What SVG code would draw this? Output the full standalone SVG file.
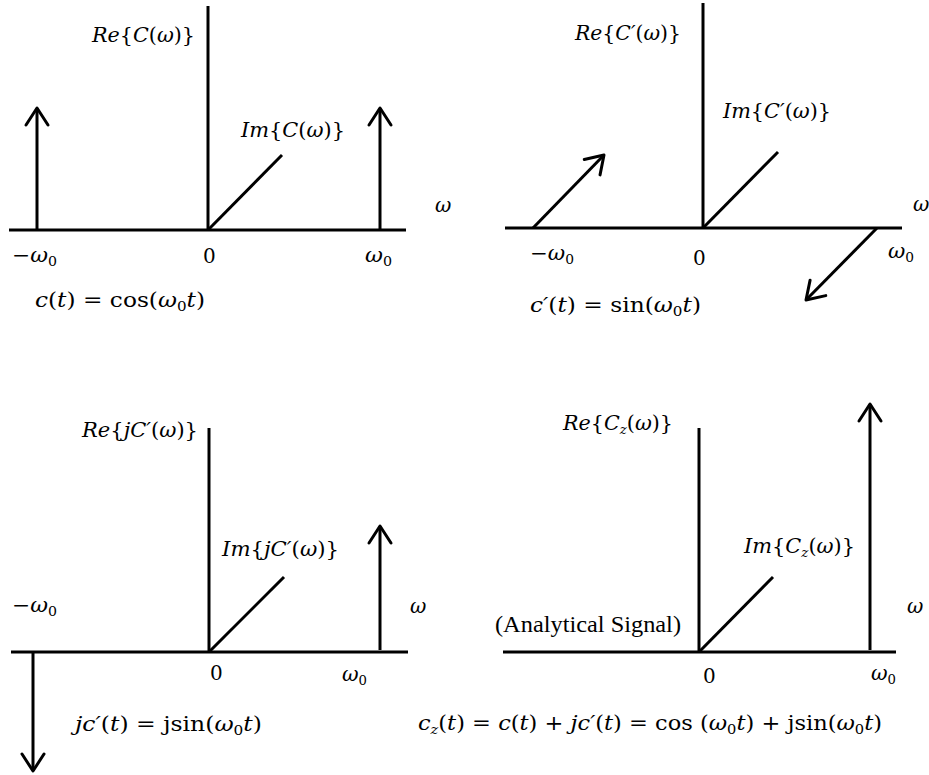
<svg xmlns="http://www.w3.org/2000/svg" width="929" height="775" viewBox="0 0 929 775">
<defs>
<style>
.ax{stroke:#000;stroke-width:3;fill:none}
.ar{marker-end:url(#ah)}
text{font-family:"DejaVu Serif","Liberation Serif",serif;font-size:20px;fill:#000}
.i{font-style:italic}
.s{font-size:13px}
.rm{font-family:"Liberation Serif","DejaVu Serif",serif;font-size:24px}
</style>
<marker id="ah" markerUnits="userSpaceOnUse" orient="auto" refX="0" refY="0" markerWidth="30" markerHeight="30" overflow="visible">
<path d="M-17,-11 L0,0 L-17,11" fill="none" stroke="#000" stroke-width="3" stroke-linecap="round" stroke-linejoin="round"/>
</marker>
</defs>
<rect width="929" height="775" fill="#fff"/>

<g id="connectors">
<line class="ax" x1="9" y1="230" x2="406" y2="230"/>
<line class="ax" x1="208" y1="6" x2="208" y2="230"/>
<line class="ax" x1="208" y1="230" x2="282" y2="155"/>
<line class="ax ar" x1="37" y1="230" x2="37" y2="108"/>
<line class="ax ar" x1="380" y1="230" x2="380" y2="108"/>

<line class="ax" x1="505" y1="228" x2="902" y2="228"/>
<line class="ax" x1="703" y1="3" x2="703" y2="228"/>
<line class="ax" x1="703" y1="228" x2="778" y2="152"/>
<line class="ax ar" x1="533" y1="228" x2="604" y2="155"/>
<line class="ax ar" x1="877" y1="228" x2="806" y2="300"/>

<line class="ax" x1="11" y1="652" x2="408" y2="652"/>
<line class="ax" x1="209" y1="428" x2="209" y2="652"/>
<line class="ax" x1="209" y1="652" x2="284" y2="577"/>
<line class="ax ar" x1="380" y1="650" x2="380" y2="526"/>
<line class="ax ar" x1="33" y1="652" x2="33" y2="771"/>

<line class="ax" x1="503" y1="652" x2="896" y2="652"/>
<line class="ax" x1="699" y1="428" x2="699" y2="652"/>
<line class="ax" x1="699" y1="652" x2="773" y2="577"/>
<line class="ax ar" x1="870" y1="650" x2="870" y2="404"/>
</g>

<g id="panel-c">
<text x="92" y="42" textLength="103" lengthAdjust="spacingAndGlyphs"><tspan class="i">Re</tspan>{<tspan class="i">C</tspan>(<tspan class="i">ω</tspan>)}</text>
<text x="241" y="137" textLength="104" lengthAdjust="spacingAndGlyphs"><tspan class="i">Im</tspan>{<tspan class="i">C</tspan>(<tspan class="i">ω</tspan>)}</text>
<text x="435" y="212" class="i">ω</text>
<text x="12" y="262" textLength="45" lengthAdjust="spacingAndGlyphs">−<tspan class="i">ω</tspan><tspan class="s" dy="4">0</tspan></text>
<text x="203" y="263">0</text>
<text x="365" y="262" textLength="27" lengthAdjust="spacingAndGlyphs"><tspan class="i">ω</tspan><tspan class="s" dy="4">0</tspan></text>
<text x="35" y="307" textLength="170" lengthAdjust="spacingAndGlyphs"><tspan class="i">c</tspan>(<tspan class="i">t</tspan>) = cos(<tspan class="i">ω</tspan><tspan class="s" dy="4">0</tspan><tspan class="i" dy="-4">t</tspan>)</text>
</g>

<g id="panel-cprime">
<text x="575" y="40" textLength="106" lengthAdjust="spacingAndGlyphs"><tspan class="i">Re</tspan>{<tspan class="i">C′</tspan>(<tspan class="i">ω</tspan>)}</text>
<text x="723" y="118" textLength="108" lengthAdjust="spacingAndGlyphs"><tspan class="i">Im</tspan>{<tspan class="i">C′</tspan>(<tspan class="i">ω</tspan>)}</text>
<text x="913" y="211" class="i">ω</text>
<text x="530" y="260" textLength="44" lengthAdjust="spacingAndGlyphs">−<tspan class="i">ω</tspan><tspan class="s" dy="4">0</tspan></text>
<text x="693" y="265">0</text>
<text x="888" y="258" textLength="26" lengthAdjust="spacingAndGlyphs"><tspan class="i">ω</tspan><tspan class="s" dy="4">0</tspan></text>
<text x="530" y="312" textLength="171" lengthAdjust="spacingAndGlyphs"><tspan class="i">c′</tspan>(<tspan class="i">t</tspan>) = sin(<tspan class="i">ω</tspan><tspan class="s" dy="4">0</tspan><tspan class="i" dy="-4">t</tspan>)</text>
</g>

<g id="panel-jcprime">
<text x="82" y="437" textLength="116" lengthAdjust="spacingAndGlyphs"><tspan class="i">Re</tspan>{<tspan class="i">jC′</tspan>(<tspan class="i">ω</tspan>)}</text>
<text x="222" y="556" textLength="117" lengthAdjust="spacingAndGlyphs"><tspan class="i">Im</tspan>{<tspan class="i">jC′</tspan>(<tspan class="i">ω</tspan>)}</text>
<text x="12" y="612" textLength="45" lengthAdjust="spacingAndGlyphs">−<tspan class="i">ω</tspan><tspan class="s" dy="4">0</tspan></text>
<text x="410" y="613" class="i">ω</text>
<text x="210" y="680">0</text>
<text x="342" y="681" textLength="25" lengthAdjust="spacingAndGlyphs"><tspan class="i">ω</tspan><tspan class="s" dy="4">0</tspan></text>
<text x="75" y="731" textLength="187" lengthAdjust="spacingAndGlyphs"><tspan class="i">jc′</tspan>(<tspan class="i">t</tspan>) = jsin(<tspan class="i">ω</tspan><tspan class="s" dy="4">0</tspan><tspan class="i" dy="-4">t</tspan>)</text>
</g>

<g id="panel-cz">
<text x="563" y="430" textLength="110" lengthAdjust="spacingAndGlyphs"><tspan class="i">Re</tspan>{<tspan class="i">C</tspan><tspan class="s i" dy="4">z</tspan><tspan dy="-4">(</tspan><tspan class="i">ω</tspan>)}</text>
<text x="744" y="553" textLength="111" lengthAdjust="spacingAndGlyphs"><tspan class="i">Im</tspan>{<tspan class="i">C</tspan><tspan class="s i" dy="4">z</tspan><tspan dy="-4">(</tspan><tspan class="i">ω</tspan>)}</text>
<text x="907" y="613" class="i">ω</text>
<text x="495" y="632" class="rm" textLength="186" lengthAdjust="spacingAndGlyphs">(Analytical Signal)</text>
<text x="703" y="683">0</text>
<text x="871" y="680" textLength="25" lengthAdjust="spacingAndGlyphs"><tspan class="i">ω</tspan><tspan class="s" dy="4">0</tspan></text>
<text x="418" y="730" textLength="464" lengthAdjust="spacingAndGlyphs"><tspan class="i">c</tspan><tspan class="s i" dy="4">z</tspan><tspan dy="-4">(</tspan><tspan class="i">t</tspan>) = <tspan class="i">c</tspan>(<tspan class="i">t</tspan>) + <tspan class="i">jc′</tspan>(<tspan class="i">t</tspan>) = cos (<tspan class="i">ω</tspan><tspan class="s" dy="4">0</tspan><tspan class="i" dy="-4">t</tspan>) + jsin(<tspan class="i">ω</tspan><tspan class="s" dy="4">0</tspan><tspan class="i" dy="-4">t</tspan>)</text>
</g>
</svg>
